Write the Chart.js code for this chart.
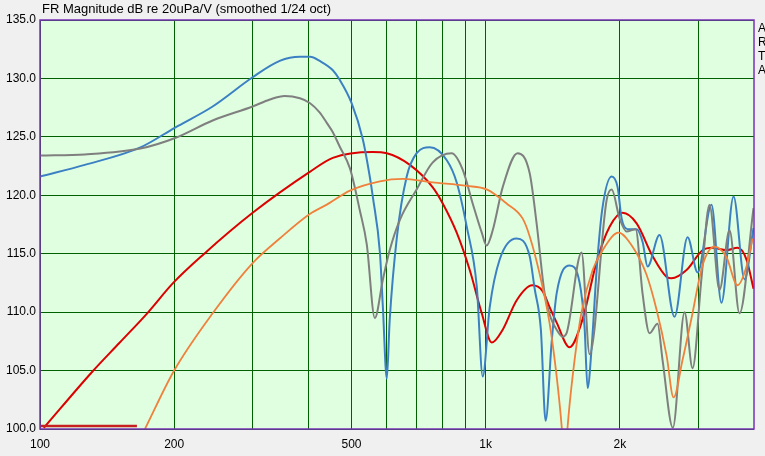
<!DOCTYPE html>
<html>
<head>
<meta charset="utf-8">
<script src="https://cdn.jsdelivr.net/npm/chart.js@4/dist/chart.umd.min.js"></script>
<style>
  html, body { margin: 0; padding: 0; background: #f0f0f0; }
  #wrap { width: 765px; height: 456px; }
</style>
</head>
<body>
<div id="wrap"><canvas id="fr" width="765" height="456"></canvas></div>
<script>
// values (Hz / dB)
const blueFreq = [100, 126, 168, 201, 244, 300, 345, 383, 404, 424, 454, 470, 500, 530, 550, 558, 579, 588, 600, 609, 632, 665, 700, 749, 818, 861, 907, 955, 985, 1021, 1075, 1173, 1255, 1288, 1330, 1363, 1406, 1443, 1543, 1625, 1667, 1693, 1729, 1774, 1825, 1917, 1977, 2019, 2082, 2181, 2250, 2308, 2455, 2653, 2838, 2990, 3211, 3381, 3599, 3810, 3990];
const blueDb = [121.6, 122.6, 124.1, 125.8, 127.6, 130.1, 131.5, 131.85, 131.85, 131.5, 130.7, 129.9, 127.9, 124.8, 121.5, 119.9, 115.1, 110.4, 104.3, 109.3, 116.4, 121.6, 123.6, 124.1, 123.0, 121.1, 117.3, 112.2, 104.5, 110.4, 114.5, 116.3, 114.8, 112.0, 108.5, 100.7, 107.4, 111.6, 114.0, 112.5, 108.7, 103.5, 107.0, 113.6, 118.7, 121.6, 120.7, 118.0, 117.1, 117.1, 116.0, 113.9, 116.6, 109.6, 116.4, 113.4, 119.2, 110.8, 119.9, 112.8, 117.2];

const grayFreq = [100, 126, 168, 201, 244, 300, 328, 354, 383, 403, 424, 440, 454, 470, 496, 522, 541, 564, 588, 609, 642, 700, 760, 839, 888, 935, 980, 1005, 1037, 1092, 1179, 1255, 1301, 1356, 1400, 1443, 1488, 1519, 1641, 1711, 1868, 1917, 1998, 2071, 2170, 2249, 2332, 2430, 2494, 2630, 2794, 2912, 3051, 3178, 3347, 3525, 3711, 3990];
const grayDb = [123.4, 123.5, 124.0, 124.9, 126.4, 127.6, 128.2, 128.5, 128.3, 127.9, 127.1, 126.2, 125.4, 124.2, 122.3, 118.7, 115.8, 109.5, 112.8, 115.3, 117.9, 120.5, 122.8, 123.6, 122.2, 119.3, 116.8, 115.7, 117.0, 120.7, 123.6, 121.9, 117.6, 111.6, 109.5, 108.5, 107.9, 108.2, 115.1, 106.4, 119.6, 120.5, 118.0, 116.9, 117.1, 111.6, 108.2, 109.0, 105.9, 100.1, 110.0, 105.2, 113.0, 119.2, 111.9, 117.0, 109.9, 118.9];

const redFreq = [102, 131, 151, 174, 199, 232, 300, 403, 454, 558, 600, 676, 760, 801, 861, 921, 980, 1032, 1092, 1173, 1271, 1342, 1392, 1443, 1543, 1650, 1774, 1897, 2029, 2181, 2368, 2550, 2612, 2823, 3066, 3228, 3470, 3673, 3848, 3990];
const redDb = [100.1, 104.9, 107.4, 109.9, 112.5, 114.9, 118.5, 122.0, 123.2, 123.7, 123.6, 122.6, 120.7, 119.3, 116.8, 113.6, 109.9, 107.4, 108.5, 111.0, 112.3, 111.8, 110.4, 109.1, 107.0, 109.4, 114.3, 117.3, 118.5, 117.6, 114.8, 113.0, 112.9, 113.6, 115.3, 115.5, 115.3, 115.5, 114.5, 112.0];

const orangeFreq = [172, 200, 244, 300, 345, 403, 440, 496, 579, 652, 760, 907, 1005, 1114, 1211, 1255, 1321, 1392, 1443, 1481, 1504, 1527, 1567, 1641, 1738, 1830, 1985, 2136, 2296, 2418, 2546, 2640, 2765, 2897, 3066, 3262, 3470, 3673, 3848, 3970];
const orangeDb = [100.0, 105.0, 109.9, 114.2, 116.3, 118.4, 119.2, 120.4, 121.2, 121.4, 121.1, 120.8, 120.5, 119.3, 118.0, 116.5, 113.3, 109.0, 104.5, 100.2, 96.5, 100.2, 104.5, 110.0, 113.6, 115.3, 116.8, 115.6, 113.2, 110.2, 106.3, 102.7, 105.9, 109.5, 114.0, 115.6, 114.7, 112.3, 113.9, 116.3];

// short dark red marker at the bottom
const markerFreq = [100, 165];
const markerDb = [100.25, 100.25];

const xGridTicks = [100, 200, 300, 400, 500, 600, 700, 800, 900, 1000, 2000, 3000];
const xLabelTicks = [100, 200, 500, 1000, 2000];
const xLabelText = ['100', '200', '500', '1k', '2k'];
const legendLetters = ['A', 'R', 'T', 'A'];
const titleText = 'FR Magnitude dB re 20uPa/V (smoothed 1/24 oct)';

const pts = (fs, ds) => fs.map((f, i) => ({ x: f, y: ds[i] }));

const line = (label, fs, ds, color, w) => ({
  label: label,
  data: pts(fs, ds),
  borderColor: color,
  borderWidth: w,
  pointRadius: 0,
  fill: false,
  cubicInterpolationMode: 'monotone',
});

const frame = {
  id: 'frame',
  beforeDraw(chart) {
    const { ctx, chartArea: a } = chart;
    ctx.save();
    ctx.fillStyle = '#e0ffe0';
    ctx.fillRect(a.left, a.top, a.right - a.left, a.bottom - a.top);
    ctx.restore();
  },
  afterDraw(chart) {
    const { ctx, chartArea: a } = chart;
    ctx.save();
    ctx.strokeStyle = '#7a30b8';
    ctx.lineWidth = 1.5;
    ctx.strokeRect(a.left, a.top, a.right - a.left, a.bottom - a.top);
    ctx.fillStyle = '#000';
    ctx.textBaseline = 'middle';
    ctx.textAlign = 'left';
    ctx.font = '13px "Liberation Sans", Arial, sans-serif';
    ctx.fillText(titleText, 42, 9);
    ctx.font = '12px "Liberation Sans", Arial, sans-serif';
    legendLetters.forEach((t, i) => ctx.fillText(t, a.right + 4, 29 + i * 14));
    ctx.restore();
  },
};

new Chart(document.getElementById('fr'), {
  type: 'line',
  data: {
    datasets: [
      line('marker', markerFreq, markerDb, '#c82020', 2.5),
      line('orange', orangeFreq, orangeDb, '#f0803c', 1.8),
      line('gray', grayFreq, grayDb, '#7f7f7f', 2),
      line('blue', blueFreq, blueDb, '#3c80c4', 2),
      line('red', redFreq, redDb, '#dc0000', 2),
    ],
  },
  options: {
    responsive: false,
    animation: false,
    layout: { padding: { top: 20, right: 11, left: 0, bottom: 0 } },
    plugins: { legend: { display: false }, tooltip: { enabled: false } },
    scales: {
      x: {
        type: 'logarithmic',
        min: 100,
        max: 4000,
        afterBuildTicks: (s) => { s.ticks = xGridTicks.map((v) => ({ value: v })); },
        afterFit: (s) => { s.height = 27; },
        grid: { color: '#006000', lineWidth: 1, drawTicks: false },
        border: { display: false },
        ticks: {
          autoSkip: false,
          maxRotation: 0,
          padding: 8,
          color: '#000',
          font: { family: '"Liberation Sans", Arial, sans-serif', size: 12 },
          callback: (v) => {
            const i = xLabelTicks.indexOf(v);
            return i >= 0 ? xLabelText[i] : '';
          },
        },
      },
      y: {
        min: 100,
        max: 135,
        afterFit: (s) => { s.width = 40; },
        grid: { color: '#006000', lineWidth: 1, drawTicks: false },
        border: { display: false },
        ticks: {
          stepSize: 5,
          padding: 4,
          color: '#000',
          font: { family: '"Liberation Sans", Arial, sans-serif', size: 12 },
          callback: (v) => v.toFixed(1),
        },
      },
    },
  },
  plugins: [frame],
});
</script>
</body>
</html>
